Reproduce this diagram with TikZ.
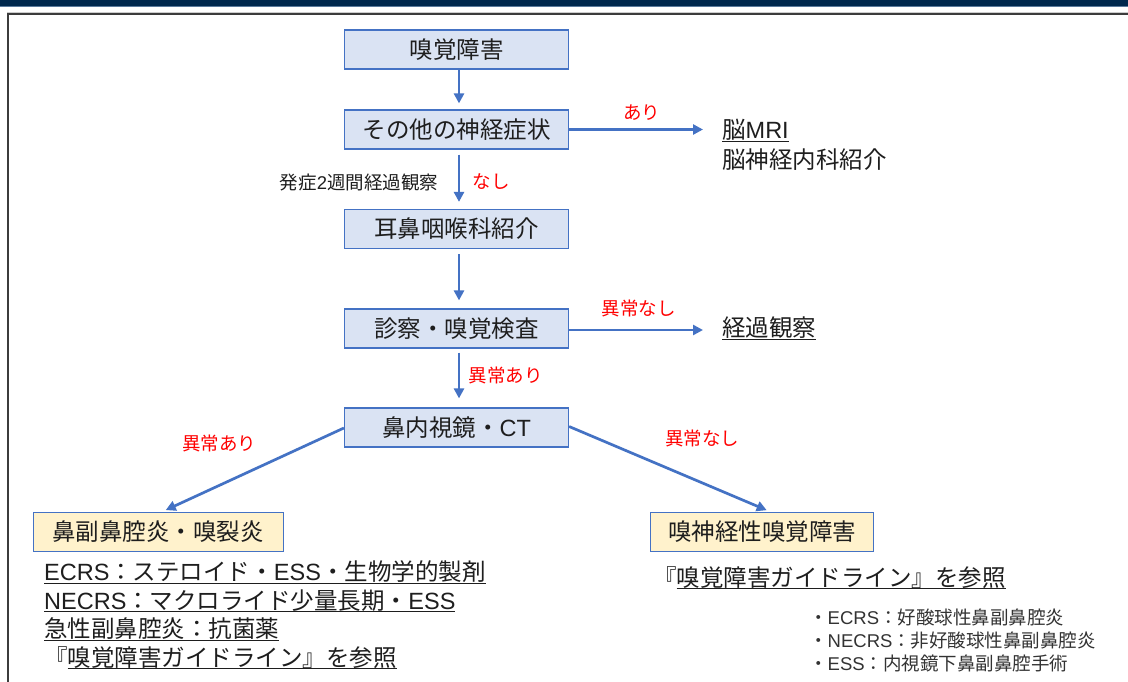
\documentclass[tikz,border=0pt]{standalone}
\usepackage{fontspec}
\setmainfont{Noto Sans CJK JP}
\newfontfamily\latin{Liberation Sans}
\usetikzlibrary{arrows.meta}
\definecolor{navy}{HTML}{00284D}
\definecolor{navyline}{HTML}{5A7A9C}
\definecolor{framegray}{HTML}{3C3C3C}
\definecolor{boxblue}{HTML}{DAE3F3}
\definecolor{edgeblue}{HTML}{4472C4}
\definecolor{boxyellow}{HTML}{FFF2CC}
\definecolor{txt}{HTML}{1E1E1E}
\definecolor{notetxt}{HTML}{333333}
\definecolor{lblred}{HTML}{FF0000}
\newsavebox\ulbox
\newcommand\myul[1]{\sbox\ulbox{#1}\rlap{\rule[-3.2pt]{\wd\ulbox}{1.1pt}}\usebox\ulbox}
\newcommand\la[1]{{\latin #1}}
\tikzset{
  bigfont/.style={font=\fontsize{23.5}{28}\selectfont},
  smallfont/.style={font=\fontsize{18.5}{22}\selectfont},
  bluebox/.style={bigfont, text=txt, draw=edgeblue, fill=boxblue, line width=1.2pt,
    minimum width=224pt, minimum height=39pt, inner sep=0pt},
  yellowbox/.style={bigfont, text=txt, draw=edgeblue, fill=boxyellow, line width=1.2pt,
    minimum height=38.5pt, inner sep=0pt},
  flowarrow/.style={draw=edgeblue, line width=2.7pt, -{Triangle[length=10pt,width=10pt]}},
  redlabel/.style={smallfont, text=lblred, inner sep=0pt},
  plaintext/.style={bigfont, text=txt, inner sep=0pt, anchor=base west},
  notetext/.style={smallfont, text=notetxt, inner sep=0pt, anchor=base west}
}
\begin{document}
\begin{tikzpicture}[x=1pt,y=-1pt]
\useasboundingbox (0,0) rectangle (1128,682);
\fill[white] (0,0) rectangle (1128,682);
% header bar and frame
\fill[navy] (0,0) rectangle (1128,6.2);
\fill[navyline] (0,6.2) rectangle (1128,7.2);
\fill[gray!40] (7,12) rectangle (1128,13);
\draw[framegray, line width=2.2pt] (8.3,682) -- (8.3,14.1) -- (1128,14.1);

% main boxes
\node[bluebox] (b1) at (456.5,49.5) {嗅覚障害};
\node[bluebox] (b2) at (456.5,129.5) {その他の神経症状};
\node[bluebox] (b3) at (456.5,229) {耳鼻咽喉科紹介};
\node[bluebox] (b4) at (456.5,328.5) {診察・嗅覚検査};
\node[bluebox] (b5) at (456.5,427.5) {鼻内視鏡・\la{CT}};

\node[yellowbox, minimum width=250pt] (y1) at (158.2,532) {鼻副鼻腔炎・嗅裂炎};
\node[yellowbox, minimum width=223pt] (y2) at (762.3,532) {嗅神経性嗅覚障害};

% right-hand texts
\node[plaintext] (mri) at (722,138.8) {\myul{脳\la{MRI}}};
\node[plaintext] (neuro) at (722,168.3) {脳神経内科紹介};
\node[plaintext] (obs) at (722,336.8) {\myul{経過観察}};

% vertical arrows
\draw[flowarrow, shorten >=6pt] ([xshift=2.5pt]b1.south) -- ([xshift=2.5pt]b2.north);
\draw[flowarrow, shorten <=5pt, shorten >=7pt] ([xshift=2.5pt]b2.south) -- ([xshift=2.5pt]b3.north);
\draw[flowarrow, shorten <=5pt, shorten >=8pt] ([xshift=2.5pt]b3.south) -- ([xshift=2.5pt]b4.north);
\draw[flowarrow, shorten <=4pt, shorten >=9pt] ([xshift=2.5pt]b4.south) -- ([xshift=2.5pt]b5.north);
% horizontal arrows
\draw[flowarrow, shorten >=19pt] (b2.east) -- (b2.east -| mri.west);
\draw[flowarrow, shorten >=19pt] ([yshift=-1.5pt]b4.east) -- ([yshift=-1.5pt]b4.east -| obs.west);
% diagonal arrows
\draw[flowarrow, shorten >=5pt] ([yshift=-0.5pt]b5.west) -- ([xshift=3pt]y1.north);
\draw[flowarrow, shorten >=5pt] ([yshift=1pt]b5.east) -- ([xshift=9pt]y2.north);

% labels
\node[redlabel] (l1) at (641.7,113) {あり};
\node[redlabel] (l2) at (491,181.5) {なし};
\node[smallfont, text=txt, inner sep=0pt] (l3) at (359,183) {発症\la{2}週間経過観察};
\node[redlabel] (l4) at (638.5,308) {異常なし};
\node[redlabel] (l5) at (505.5,375) {異常あり};
\node[redlabel] (l6) at (219,443) {異常あり};
\node[redlabel] (l7) at (702,438) {異常なし};

% treatment texts
\node[plaintext] (t1) at (44,580.5) {\myul{\la{ECRS}：ステロイド・\la{ESS}・生物学的製剤}};
\node[plaintext] (t2) at (44,609) {\myul{\la{NECRS}：マクロライド少量長期・\la{ESS}}};
\node[plaintext] (t3) at (44,637.5) {\myul{急性副鼻腔炎：抗菌薬}};
\node[plaintext] (t4) at (44,666) {『\myul{嗅覚障害ガイドライン』を参照}};
\node[plaintext] (t5) at (653,586) {『\myul{嗅覚障害ガイドライン』を参照}};

% notes
\node[notetext] (n1) at (809,624.7) {・\la{ECRS}：好酸球性鼻副鼻腔炎};
\node[notetext] (n2) at (809,647.7) {・\la{NECRS}：非好酸球性鼻副鼻腔炎};
\node[notetext] (n3) at (809,670.7) {・\la{ESS}：内視鏡下鼻副鼻腔手術};
\end{tikzpicture}
\end{document}
